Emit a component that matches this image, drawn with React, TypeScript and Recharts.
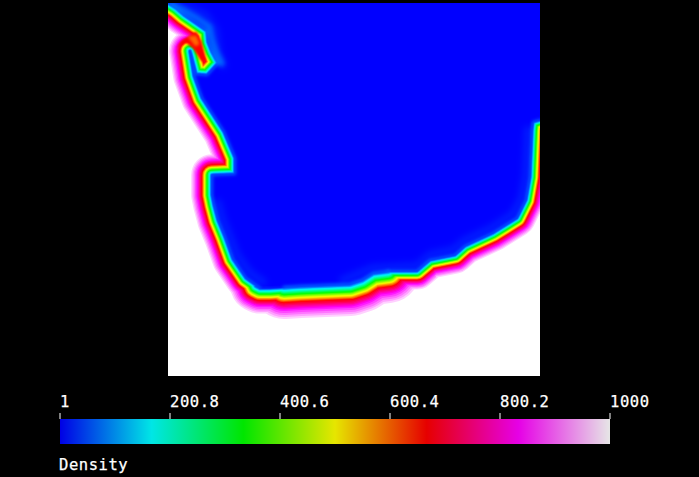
/**
 * Density field with horizontal colour bar, drawn with recharts.
 * The field is a stack of strokes along the low-density edge, widest (palest) first,
 * with the low-density region filled over the top.
 */
import {
  Bar,
  BarChart,
  Scatter,
  ScatterChart,
  XAxis,
  YAxis,
} from "recharts";

// Edge of the low-density region, in plot units (origin top left, y down)
const WEST_X = [0, 8, 16, 29, 39, 40, 44, 50, 39, 28, 22, 26, 34, 45, 56, 67, 67, 44, 44, 46, 50, 57, 65, 78, 92];
const WEST_Y = [0, 5, 12, 21, 28, 39, 49, 60, 72, 71, 48, 73, 95, 112, 129, 155, 171, 172, 192, 202, 217, 234, 256, 275, 285];
const BEND_X = [88, 92, 102, 116];
const BEND_Y = [283, 285, 285, 284];
const SOUTH_X = [116, 132, 182, 194, 205, 220];
const SOUTH_Y = [284, 283, 281, 277, 270, 268];
const EAST_X = [220, 249, 262, 287, 297, 325, 349, 358, 362, 364, 365, 372];
const EAST_Y = [268, 268, 257, 252, 243, 230, 215, 197, 174, 127, 119, 117];
const CLOSE_X = [385, 385, -10, -10];
const CLOSE_Y = [117, -10, -10, 0];

// High-density wedge inside the fold at the top left
const WEDGE_X = [10, 14, 28, 33, 38, 33, 26, 18];
const WEDGE_Y = [44, 38, 29, 38, 58, 57, 46, 39];
const CORE_X = [20, 28, 31, 27];
const CORE_Y = [34, 33, 41, 43];
const WEDGE_LEVEL = 667;
const CORE_LEVEL = 600;

// Pale haze just inside the low-density region
const HAZE_NW_X = [17, 37, 47, 50, 55];
const HAZE_NW_Y = [4, 12, 27, 50, 62];
const HAZE_W_X = [50, 54, 61, 69, 82, 95];
const HAZE_W_Y = [200, 215, 232, 252, 270, 279];
const HAZE_E_X = [175, 205, 249, 262, 285, 296, 322, 345, 354, 358, 360];
const HAZE_E_Y = [277, 265, 263, 252, 247, 238, 226, 211, 195, 172, 127];

// Brighter cyan along the upper side of the fold
const GLOW_X = [5, 16, 30, 41, 44, 48, 53];
const GLOW_Y = [1, 8, 16, 24, 38, 50, 60];

// How fast density climbs with distance from the edge
const PROFILE_DENSITY = [1, 167, 334, 500, 667, 833, 1000];
const PROFILE_DISTANCE = [0, 4, 8, 12, 16, 23, 34];

const DENSITY_LEVELS = [
  1000, 970, 940, 910, 880, 850, 820, 790, 760, 730, 700, 670, 640, 610, 580, 550, 520, 490,
  460, 430, 400, 370, 340, 310, 280, 250, 220, 190, 160, 130, 100, 70, 40,
];

// Colour bar
const BAR_ROW = [{ name: "Density", value: 1000 }];
const BAR_TICKS = [1, 200.8, 400.6, 600.4, 800.2, 1000];
const BAR_TITLE = "Density";

const RAMP = ["0,0,255", "0,255,255", "0,255,0", "255,255,0", "255,0,0", "255,0,255", "255,255,255"];
const BAR_RAMP = ["#0000e6", "#00e6e6", "#00e600", "#e6e600", "#e60000", "#e600e6", "#e6e6e6"];
const FONT = '"DejaVu Sans Mono", monospace';

const toPoints = (xs: number[], ys: number[]) => xs.map((x, i) => ({ x, y: ys[i] }));

const SEGMENTS = [
  { points: toPoints(WEST_X, WEST_Y), scale: 0.65 },
  { points: toPoints(BEND_X, BEND_Y), scale: 0.8 },
  { points: toPoints(SOUTH_X, SOUTH_Y), scale: 1 },
  { points: toPoints(EAST_X, EAST_Y), scale: 0.58 },
];

const HAZES = [
  toPoints(HAZE_NW_X, HAZE_NW_Y),
  toPoints(HAZE_W_X, HAZE_W_Y),
  toPoints(HAZE_E_X, HAZE_E_Y),
];

const LOW_REGION = [
  ...toPoints(WEST_X, WEST_Y),
  ...toPoints(SOUTH_X, SOUTH_Y),
  ...toPoints(EAST_X, EAST_Y),
  ...toPoints(CLOSE_X, CLOSE_Y),
];

function lookup(level: number, densities: number[], distances: number[]) {
  for (let i = 1; i < densities.length; i++) {
    if (level <= densities[i]) {
      const t = (level - densities[i - 1]) / (densities[i] - densities[i - 1]);
      return distances[i - 1] + t * (distances[i] - distances[i - 1]);
    }
  }
  return distances[distances.length - 1];
}

function colorFor(level: number) {
  const pos = ((level - 1) / 999) * (RAMP.length - 1);
  const i = Math.min(Math.floor(pos), RAMP.length - 2);
  const a = RAMP[i].split(",").map(Number);
  const b = RAMP[i + 1].split(",").map(Number);
  const t = pos - i;
  return `rgb(${a.map((v, k) => Math.round(v + (b[k] - v) * t)).join(",")})`;
}

const NoMarker = () => null;

function BarTick({ x, y, payload }: any) {
  return (
    <text
      x={x}
      y={y - 4}
      fill="#fff"
      stroke="#fff"
      strokeWidth={0.25}
      fontFamily={FONT}
      fontSize={15.5}
      letterSpacing={0.55}
    >
      {payload.value}
    </text>
  );
}

function contour(key: string, points: any[], level: number, width: number) {
  return (
    <Scatter
      key={key}
      data={points}
      shape={NoMarker}
      isAnimationActive={false}
      line={{
        stroke: colorFor(level),
        strokeWidth: width,
        strokeLinecap: "round",
        strokeLinejoin: "round",
      }}
    />
  );
}

function patch(key: string, points: any[], fill: string, blur: number) {
  return (
    <Scatter
      key={key}
      data={points}
      shape={NoMarker}
      isAnimationActive={false}
      line={{ stroke: fill, strokeWidth: 1, fill, style: { filter: `blur(${blur}px)` } }}
    />
  );
}

function soft(key: string, points: any[], stroke: string, width: number, opacity: number, blur: number) {
  return (
    <Scatter
      key={key}
      data={points}
      shape={NoMarker}
      isAnimationActive={false}
      line={{
        stroke,
        strokeWidth: width,
        strokeOpacity: opacity,
        strokeLinecap: "round",
        strokeLinejoin: "round",
        style: { filter: `blur(${blur}px)` },
      }}
    />
  );
}

export default function App() {
  return (
    <div style={{ position: "fixed", left: 0, top: 0, width: 699, height: 477, background: "#000" }}>
      <div style={{ position: "absolute", left: 168, top: 3, width: 372, height: 373, background: "#fff" }}>
        <ScatterChart width={372} height={373} margin={{ top: 0, right: 0, bottom: 0, left: 0 }}>
          <XAxis type="number" dataKey="x" domain={[0, 372]} allowDataOverflow hide />
          <YAxis type="number" dataKey="y" domain={[0, 373]} reversed allowDataOverflow hide />
          {DENSITY_LEVELS.flatMap((level) =>
            SEGMENTS.map((seg, s) =>
              contour(`${level}-${s}`, seg.points, level, 2 * lookup(level, PROFILE_DENSITY, PROFILE_DISTANCE) * seg.scale)
            )
          )}
          {patch("wedge", toPoints(WEDGE_X, WEDGE_Y), colorFor(WEDGE_LEVEL), 1)}
          {patch("core", toPoints(CORE_X, CORE_Y), colorFor(CORE_LEVEL), 1.5)}
          {patch("low", LOW_REGION, "#0000ff", 1.2)}
          {HAZES.map((points, h) => soft(`haze-${h}`, points, "#0070ff", 8, 0.25, 3))}
          {soft("glow", toPoints(GLOW_X, GLOW_Y), "#00aaff", 7, 0.55, 2)}
          {soft("edge-south", SEGMENTS[2].points, "#00a0ff", 3, 0.5, 1.5)}
          {soft("edge-east", SEGMENTS[3].points, "#00a0ff", 3, 0.4, 1.5)}
          {soft("edge-west", SEGMENTS[0].points, "#00a0ff", 3, 0.4, 1.5)}
        </ScatterChart>
      </div>

      <div style={{ position: "absolute", left: 0, top: 0 }}>
        <BarChart
          width={699}
          height={444}
          layout="vertical"
          data={BAR_ROW}
          barCategoryGap={0}
          margin={{ top: 389, right: 89, bottom: 0, left: 60 }}
        >
          <defs>
            <linearGradient id="densityRamp" x1="0" y1="0" x2="1" y2="0">
              {BAR_RAMP.map((c, i) => (
                <stop key={c} offset={i / (BAR_RAMP.length - 1)} stopColor={c} />
              ))}
            </linearGradient>
          </defs>
          <XAxis
            type="number"
            orientation="top"
            domain={[1, 1000]}
            ticks={BAR_TICKS}
            axisLine={false}
            tickLine={{ stroke: "#fff" }}
            tickSize={6}
            tick={<BarTick />}
            height={30}
            interval={0}
          />
          <YAxis type="category" dataKey="name" hide />
          <Bar dataKey="value" fill="url(#densityRamp)" isAnimationActive={false} />
        </BarChart>
      </div>

      <div
        style={{
          position: "absolute",
          left: 59,
          top: 456,
          color: "#fff",
          fontFamily: FONT,
          fontSize: 15.5,
          letterSpacing: 0.55,
          lineHeight: "18px",
          WebkitTextStroke: "0.25px #fff",
        }}
      >
        {BAR_TITLE}
      </div>
    </div>
  );
}
